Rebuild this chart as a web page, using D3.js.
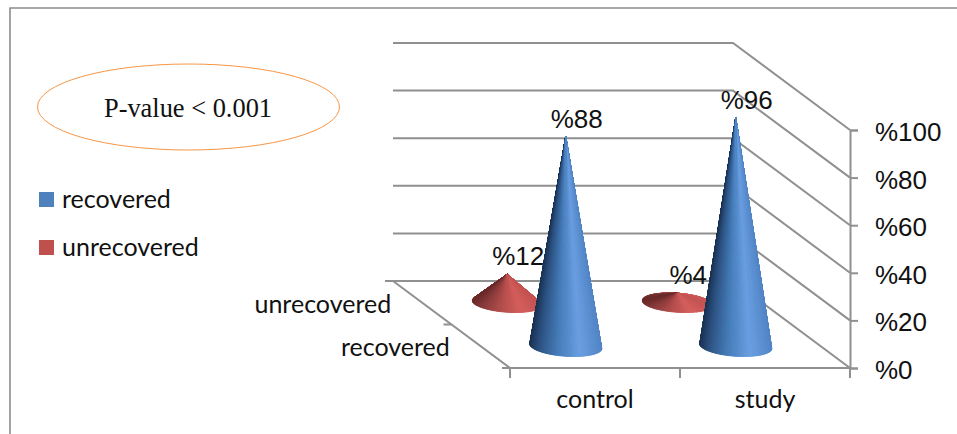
<!DOCTYPE html>
<html>
<head>
<meta charset="utf-8">
<script src="https://cdn.jsdelivr.net/npm/d3@7"></script>
<style>
html,body{margin:0;padding:0;background:#fff;}
svg{display:block;}
</style>
</head>
<body>
<svg id="chart" width="957" height="434"></svg>
<script>
// Recovery outcome by group
const categories = ["control", "study"];
const seriesNames = ["recovered", "unrecovered"];
const recoveredValues = [88, 96];
const unrecoveredValues = [12, 4];
const valueTicks = [0, 20, 40, 60, 80, 100];
const annotation = "P-value < 0.001";

const svg = d3.select("#chart");
const AXIS = "#909090";
const SANS = "'Liberation Sans', Arial, sans-serif";
const LABEL = "Lato, sans-serif";

// Front plane of the box, plus the shift that carries it back to the rear wall
const x = d3.scaleBand().domain(categories).range([510, 850]);
const y = d3.scaleLinear().domain([0, 100]).range([368, 130]);
const depth = d3.scaleBand().domain(seriesNames).range([0, 1]);
const shiftX = -117, shiftY = -87;

// Place a point given a front-plane position and a depth from 0 (front) to 1 (rear)
const project = (px, py, z) => [px + shiftX * z, py + shiftY * z];

// Walls: each gridline runs along the rear wall and then forward to the value axis
const walls = svg.append("g").attr("fill", "none").attr("stroke", AXIS).attr("stroke-width", 2);
const rearLeft = x.range()[0], front = x.range()[1];
walls.selectAll("path").data(valueTicks).join("path")
  .attr("d", v => d3.line()([
    project(rearLeft, y(v), 1),
    project(front, y(v), 1),
    project(front, y(v), 0)
  ]));

// Floor edges
walls.append("path").attr("d", d3.line()([project(rearLeft, y(0), 1), project(rearLeft, y(0), 0), [front, y(0)]]));

// Depth axis ticks
[0, 0.5, 1].forEach(z => {
  const [px, py] = project(rearLeft, y(0), z);
  walls.append("line").attr("x1", px - 8).attr("x2", px).attr("y1", py).attr("y2", py);
});

// Value axis
const valueAxis = svg.append("g")
  .attr("transform", `translate(${front},0)`)
  .call(d3.axisRight(y).tickValues(valueTicks).tickSize(8).tickPadding(17).tickFormat(d => "%" + d));
valueAxis.selectAll("path,line").attr("stroke", AXIS).attr("stroke-width", 2);
valueAxis.selectAll("text").attr("font-family", SANS).attr("font-size", 26).attr("fill", "#111").attr("dy", "0.4em");

// Category axis: ticks sit on the band edges, labels at the band centres
const edges = [x.range()[0], x.range()[0] + x.step(), x.range()[1]];
walls.selectAll("line.edge").data(edges).join("line").attr("class", "edge")
  .attr("x1", d => d).attr("x2", d => d).attr("y1", y(0)).attr("y2", y(0) + 10);
const catAxis = svg.append("g")
  .attr("transform", `translate(0,${y(0)})`)
  .call(d3.axisBottom(x).tickSize(0).tickPadding(22));
catAxis.select("path").remove();
catAxis.selectAll("text").attr("font-family", LABEL).attr("font-size", 25).attr("fill", "#111");

// Series names along the depth axis
svg.selectAll("text.depth").data(seriesNames).join("text").attr("class", "depth")
  .attr("x", d => project(rearLeft, y(0), depth(d) + depth.bandwidth() / 2)[0] - 31)
  .attr("y", d => project(rearLeft, y(0), depth(d) + depth.bandwidth() / 2)[1] + 10)
  .attr("text-anchor", "end")
  .attr("font-family", LABEL).attr("font-size", 25).attr("fill", "#111")
  .text(d => d);

// Shading across a cone, from the left silhouette to the right one
const shade = {
  recovered: d3.scaleLinear().domain([0, 0.14, 0.4, 0.7, 1])
    .range(["#1b3353", "#2d5282", "#457cb8", "#6a9fe2", "#5386c6"]),
  unrecovered: d3.scaleLinear().domain([0, 0.14, 0.4, 0.7, 1])
    .range(["#6a2a29", "#86393a", "#b04b4a", "#d55f5d", "#c45553"])
};

const RX = { recovered: 36, unrecovered: 35 };
const RY = { recovered: 10, unrecovered: 9.5 };
const TILT = 4 * Math.PI / 180;
const STEPS = 240;

// One cone is a fan of thin triangles from the apex to the rim of its base
function drawCone(group, name, category, value) {
  const z = depth(name) + depth.bandwidth() / 2;
  const cx = x(category) + x.bandwidth() / 2;
  const [bx, by] = project(cx, y(0), z);
  const [tx, ty] = project(cx, y(value), z);
  const rim = a => {
    const ex = RX[name] * Math.cos(a), ey = RY[name] * Math.sin(a);
    return [bx + ex * Math.cos(TILT) - ey * Math.sin(TILT),
            by + ex * Math.sin(TILT) + ey * Math.cos(TILT)];
  };
  const slices = d3.range(STEPS).map(i => {
    const a0 = i / STEPS * 2 * Math.PI, a1 = (i + 1) / STEPS * 2 * Math.PI;
    return { a0, a1, mid: (a0 + a1) / 2 };
  });
  // Rear half first so the near surface covers it
  slices.sort((p, q) => Math.sin(p.mid) - Math.sin(q.mid));
  group.append("g").selectAll("path").data(slices).join("path")
    .attr("d", s => d3.line()([[tx, ty], rim(s.a0), rim(s.a1)]) + "Z")
    .attr("fill", s => shade[name]((Math.cos(s.mid) + 1) / 2))
    .attr("stroke", s => shade[name]((Math.cos(s.mid) + 1) / 2))
    .attr("stroke-width", 0.9)
    .attr("stroke-linejoin", "round");
}

function drawLabel(group, name, category, value) {
  const z = depth(name) + depth.bandwidth() / 2;
  const cx = x(category) + x.bandwidth() / 2;
  const [tx, ty] = project(cx, y(value), z);
  group.append("text")
    .attr("x", tx + 11).attr("y", ty - 9)
    .attr("text-anchor", "middle")
    .attr("font-family", SANS).attr("font-size", 26).attr("fill", "#111")
    .text("%" + value);
}

// Rear row first, so the near cones overlap it
const marks = svg.append("g");
categories.forEach((c, i) => {
  drawCone(marks, "unrecovered", c, unrecoveredValues[i]);
  drawLabel(marks, "unrecovered", c, unrecoveredValues[i]);
});
categories.forEach((c, i) => {
  drawCone(marks, "recovered", c, recoveredValues[i]);
  drawLabel(marks, "recovered", c, recoveredValues[i]);
});

// Legend
const legendColor = d3.scaleOrdinal().domain(seriesNames).range(["#4f81bd", "#c0504d"]);
const legend = svg.selectAll("g.legend").data(seriesNames).join("g").attr("class", "legend")
  .attr("transform", (d, i) => `translate(39,${192 + i * 48})`);
legend.append("rect").attr("width", 15).attr("height", 15).attr("fill", d => legendColor(d));
legend.append("text").attr("x", 23).attr("y", 16)
  .attr("font-family", LABEL).attr("font-size", 25).attr("fill", "#111")
  .text(d => d);

// Significance callout
svg.append("ellipse").attr("cx", 188.5).attr("cy", 107).attr("rx", 151).attr("ry", 43)
  .attr("fill", "#fff").attr("stroke", "#f79646").attr("stroke-width", 1);
svg.append("text").attr("x", 188).attr("y", 117).attr("text-anchor", "middle")
  .attr("font-family", "'Liberation Serif', serif").attr("font-size", 26.4).attr("fill", "#111")
  .text(annotation);

// Outer frame: top and left edges
svg.append("path").attr("d", d3.line()([[10, 434], [10, 8], [957, 8]]))
  .attr("fill", "none").attr("stroke", "#8c8c8c").attr("stroke-width", 1.6);
</script>
</body>
</html>
